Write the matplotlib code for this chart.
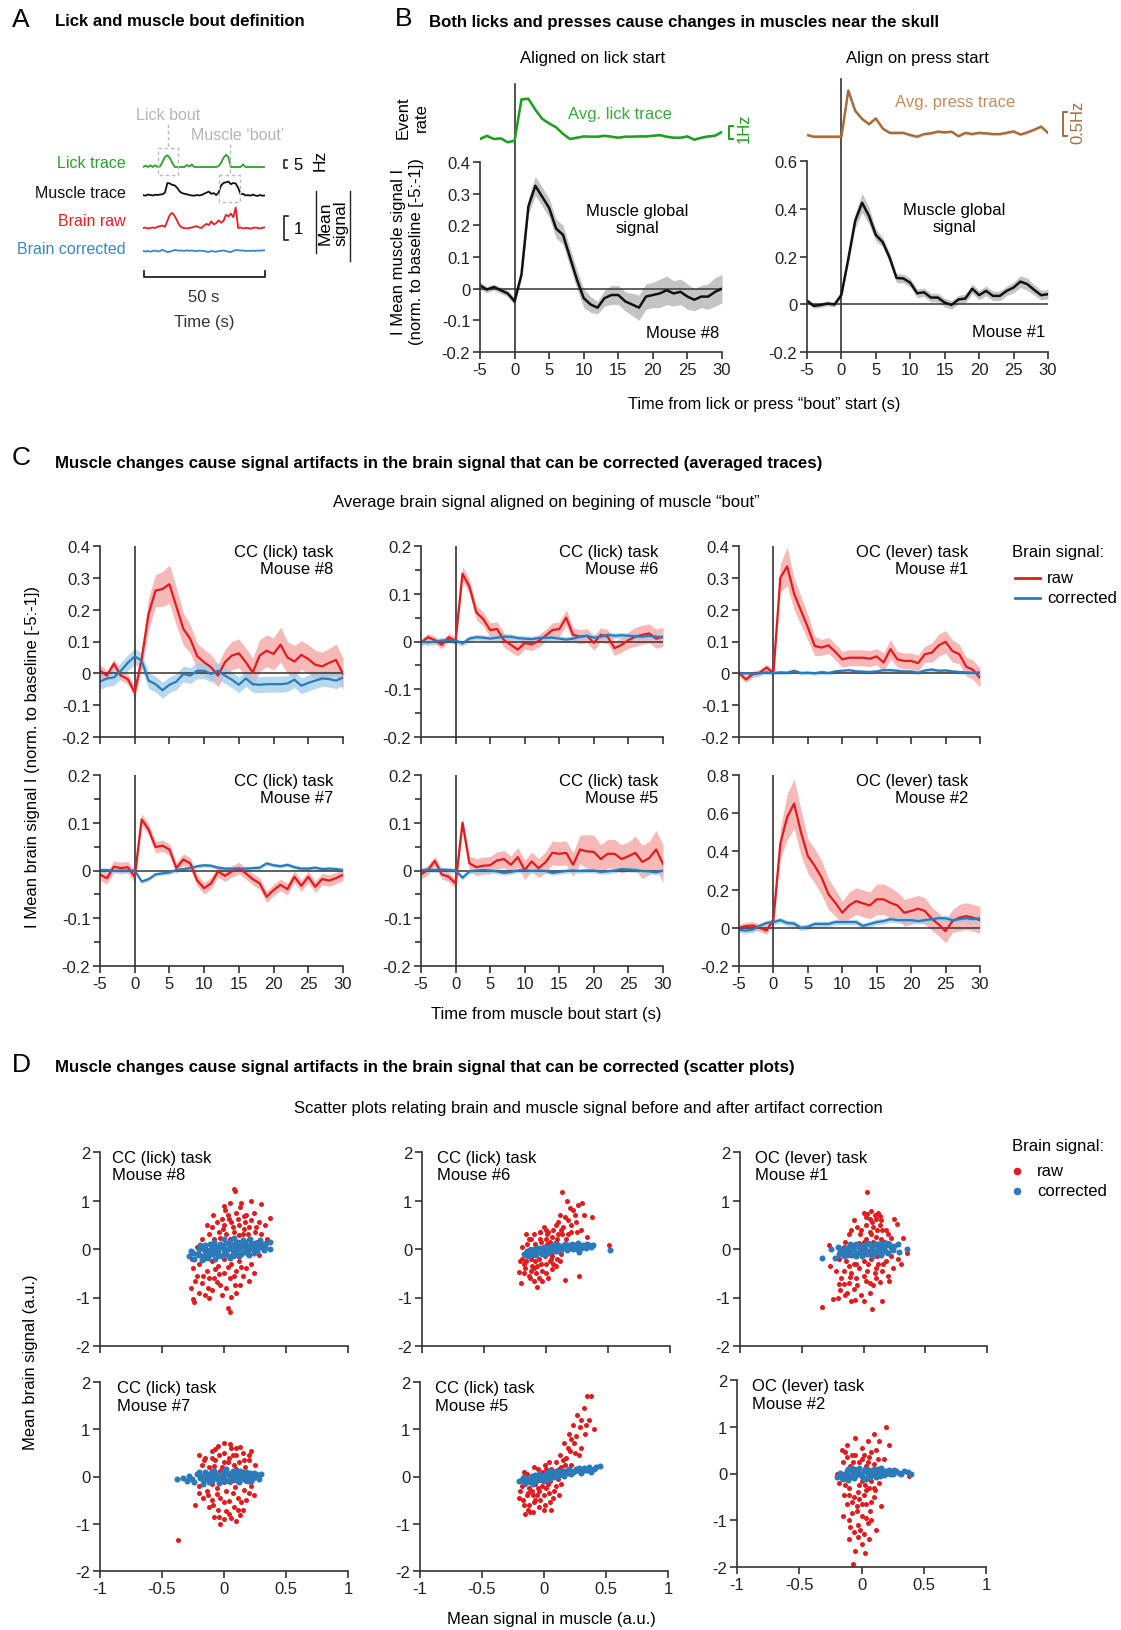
import numpy as np
import matplotlib
matplotlib.use('Agg')
import matplotlib.pyplot as plt
from matplotlib.patches import Rectangle

plt.rcParams['font.family'] = ['Liberation Sans', 'DejaVu Sans']
plt.rcParams['axes.unicode_minus'] = False

W, H = 1121, 1631
RED = '#e41a1c'
RED_BAND = '#f5a0a0'
BLUE = '#2b7bba'
BLUE_BAND = '#9fcbe8'
GREEN = '#1d9e1d'
BROWN = '#a86c3c'
AX = '#333333'
FS = 12

# ---------------- panel A : example traces (50 s) ----------------
a_t = np.arange(0, 51)
a_lick = [0, 0.8, 0, 1.0, 0, 1.0, 0, 0.3, 3.0, 6.0, 7.0, 5.5, 2.5, 0, 0, 0, 0, 0, 1.2, 0.3,
          1.5, 0, 0, 0, 0, 0, 0, 0, 0, 0, 0, 0.5, 2.5, 5.5, 7.3, 6.0, 0, 0, 0, 0,
          0, 1.5, 0, 0, 0, 0, 0, 0, 0, 0, 0]
a_muscle = [0.0, -0.03, 0.02, 0.0, -0.02, 0.01, 0.0, 0.02, 0.03, 0.1,
            0.5, 0.48, 0.42, 0.4, 0.3, 0.15, 0.08, 0.05, 0.03, 0.0,
            -0.02, -0.03, 0.0, -0.02, 0.0, 0.05, 0.1, 0.14, 0.05, 0.08,
            0.0, 0.1, 0.4, 0.5, 0.53, 0.56, 0.45, 0.5, 0.48, 0.3,
            0.03, 0.05, -0.02, 0.0, -0.03, 0.02, -0.02, -0.04, 0.0, -0.03, -0.02]
a_raw = [0, 0.02, -0.02, 0.0, 0.02, 0.0, 0.05, 0.08, 0.1, 0.05,
         0.3, 0.55, 0.63, 0.5, 0.3, 0.1, 0.02, 0.0, -0.02, 0.0,
         0.02, 0.05, 0.08, 0.02, 0.0, 0.1, 0.17, 0.12, 0.28, 0.15,
         0.2, 0.32, 0.22, 0.3, 0.55, 0.48, 0.6, 0.45, 0.85, 0.0,
         0.02, -0.02, 0.0, 0.0, -0.03, 0.0, 0.02, 0.0, -0.02, 0.01, 0.03]
a_cor = [0, -0.02, 0.0, -0.03, 0.0, 0.02, -0.02, 0.0, 0.05, 0.0,
         -0.04, -0.03, 0.01, 0.04, 0.03, 0.01, 0.02, 0.0, 0.03, 0.01,
         0.02, 0.0, -0.01, 0.02, 0.01, 0.0, -0.03, -0.04, 0.0, -0.02,
         -0.03, 0.0, 0.01, 0.02, 0.0, -0.03, -0.04, 0.0, 0.04, 0.03,
         0.02, 0.02, 0.0, 0.01, 0.0, 0.02, 0.0, 0.02, 0.01, 0.03, 0.02]

# ---------------- panel B : lick / press aligned muscle ----------------
t = np.arange(-5, 31)
lick_rate = [1.0, 1.25, 1.0, 1.05, 0.75, 0.87, 4.05, 4.1, 3.25, 2.55, 2.2, 1.9, 1.4, 1.0, 1.1, 1.2,
             1.18, 1.18, 1.25, 1.18, 1.1, 1.18, 1.18, 1.2, 1.2, 1.25, 1.3, 1.18, 1.1, 1.1, 1.2,
             0.95, 1.1, 1.2, 1.25, 1.55]
lick_sem = 0.08
press_rate = [0.235, 0.2, 0.2, 0.2, 0.2, 0.2, 1.16, 0.74, 0.57, 0.46, 0.58, 0.37, 0.28, 0.28, 0.28, 0.235,
              0.2, 0.255, 0.27, 0.305, 0.29, 0.305, 0.21, 0.28, 0.255, 0.28, 0.27, 0.255, 0.255, 0.28,
              0.31, 0.245, 0.29, 0.345, 0.41, 0.28]
press_sem = 0.03
muscle8 = [0.01, -0.003, 0.005, -0.005, -0.015, -0.04,
           0.045, 0.26, 0.325, 0.29, 0.255, 0.19, 0.17, 0.10, 0.03, -0.03,
           -0.05, -0.06, -0.03, -0.02, -0.02, -0.04, -0.05, -0.06, -0.025, -0.02,
           -0.015, -0.005, -0.015, -0.01, -0.025, -0.035, -0.025, -0.025, -0.01, 0.0]
muscle8_sem = [0.012, 0.01, 0.01, 0.01, 0.01, 0.012,
               0.015, 0.025, 0.03, 0.03, 0.03, 0.03, 0.03, 0.03, 0.03, 0.03,
               0.025, 0.02, 0.025, 0.03, 0.03, 0.03, 0.035, 0.04, 0.04, 0.04,
               0.045, 0.045, 0.04, 0.04, 0.04, 0.035, 0.035, 0.04, 0.045, 0.045]
muscle1 = [0.014, -0.007, -0.003, 0.003, -0.001, 0.04,
           0.19, 0.35, 0.425, 0.37, 0.29, 0.26, 0.195, 0.11, 0.108, 0.09,
           0.046, 0.05, 0.028, 0.028, 0.007, -0.003, 0.02, 0.024, 0.065, 0.038,
           0.056, 0.035, 0.035, 0.056, 0.07, 0.095, 0.084, 0.06, 0.038, 0.042]
muscle1_sem = [0.01, 0.01, 0.01, 0.01, 0.01, 0.012,
               0.02, 0.03, 0.04, 0.035, 0.025, 0.02, 0.02, 0.02, 0.018, 0.018,
               0.018, 0.018, 0.018, 0.018, 0.018, 0.018, 0.018, 0.018, 0.02, 0.02,
               0.02, 0.02, 0.02, 0.02, 0.022, 0.025, 0.025, 0.022, 0.02, 0.02]

# ---------------- panel C : brain signal aligned on muscle bout ----------------
m8_raw = [0.008, -0.007, 0.03, -0.007, -0.018, -0.06,
          0.045, 0.187, 0.26, 0.265, 0.28, 0.21, 0.14, 0.108, 0.054, 0.035,
          0.019, -0.007, 0.035, 0.056, 0.063, 0.035, 0.003, 0.056, 0.071, 0.061,
          0.09, 0.05, 0.037, 0.058, 0.045, 0.027, 0.022, 0.033, 0.042, -0.002]
m8_raw_sem = [0.02, 0.015, 0.015, 0.015, 0.015, 0.02,
              0.03, 0.05, 0.05, 0.055, 0.06, 0.06, 0.05, 0.045, 0.04, 0.04,
              0.04, 0.035, 0.04, 0.045, 0.045, 0.045, 0.045, 0.05, 0.05, 0.05,
              0.055, 0.05, 0.05, 0.045, 0.045, 0.045, 0.045, 0.045, 0.05, 0.05]
m8_cor = [-0.026, -0.016, -0.013, 0.008, 0.033, 0.053,
          0.04, -0.023, -0.034, -0.053, -0.036, -0.026, -0.002, -0.007, 0.008, 0.008,
          -0.002, 0.008, -0.007, -0.02, -0.036, -0.016, -0.034, -0.036, -0.034, -0.034,
          -0.034, -0.032, -0.02, -0.039, -0.03, -0.023, -0.016, -0.018, -0.023, -0.013]
m8_cor_sem = 0.025

m6_raw = [-0.003, 0.009, 0.003, -0.007, 0.009, 0.001,
          0.142, 0.115, 0.061, 0.047, 0.024, 0.026, 0.003, -0.007, -0.017, -0.003,
          -0.006, 0.001, 0.012, 0.024, 0.026, 0.05, 0.014, 0.01, 0.012, -0.003,
          0.014, 0.01, -0.014, -0.007, 0.003, 0.01, 0.014, 0.017, 0.006, 0.01]
m6_raw_sem = [0.008, 0.008, 0.008, 0.008, 0.008, 0.008,
              0.015, 0.015, 0.015, 0.015, 0.015, 0.015, 0.015, 0.015, 0.013, 0.013,
              0.013, 0.013, 0.013, 0.015, 0.015, 0.017, 0.015, 0.015, 0.015, 0.015,
              0.015, 0.015, 0.015, 0.015, 0.017, 0.02, 0.02, 0.02, 0.02, 0.02]
m6_cor = [0.0, -0.002, 0.0, 0.002, 0.003, 0.002,
          -0.004, 0.006, 0.009, 0.008, 0.006, 0.008, 0.01, 0.01, 0.007, 0.006,
          0.005, 0.007, 0.008, 0.008, 0.006, 0.004, 0.006, 0.01, 0.012, 0.008,
          0.01, 0.014, 0.012, 0.013, 0.012, 0.011, 0.01, 0.012, 0.01, 0.009]
m6_cor_sem = 0.006

m1_raw = [0.002, -0.019, -0.003, 0.002, 0.018, 0.002,
          0.30, 0.336, 0.25, 0.197, 0.144, 0.086, 0.081, 0.088, 0.067, 0.044,
          0.049, 0.049, 0.049, 0.046, 0.053, 0.034, 0.076, 0.044, 0.039, 0.039,
          0.032, 0.06, 0.065, 0.088, 0.099, 0.07, 0.06, 0.021, 0.011, -0.014]
m1_raw_sem = [0.01, 0.01, 0.01, 0.01, 0.01, 0.01,
              0.045, 0.06, 0.05, 0.045, 0.04, 0.03, 0.025, 0.025, 0.025, 0.025,
              0.025, 0.025, 0.025, 0.025, 0.025, 0.03, 0.03, 0.025, 0.025, 0.025,
              0.025, 0.025, 0.03, 0.035, 0.035, 0.035, 0.03, 0.03, 0.03, 0.03]
m1_cor = [0.0, 0.0, -0.002, 0.0, 0.003, 0.001,
          0.003, 0.002, 0.008, 0.001, 0.002, 0.0, 0.004, 0.001, 0.006, 0.008,
          0.01, 0.006, 0.005, 0.004, 0.006, 0.01, 0.01, 0.008, 0.006, 0.006,
          0.002, 0.009, 0.012, 0.008, 0.009, 0.006, 0.004, 0.003, 0.002, 0.003]
m1_cor_sem = 0.006

m7_raw = [-0.009, -0.016, 0.008, 0.005, 0.007, -0.013,
          0.107, 0.086, 0.049, 0.052, 0.044, 0.005, 0.023, 0.015, -0.021, -0.037,
          -0.027, -0.002, -0.011, -0.002, 0.005, -0.006, -0.018, -0.027, -0.055, -0.041,
          -0.03, -0.039, -0.013, -0.032, -0.013, -0.034, -0.018, -0.021, -0.016, -0.009]
m7_raw_sem = 0.012
m7_cor = [0.001, 0.001, -0.001, 0.0, 0.0, 0.0,
          -0.023, -0.018, -0.008, -0.006, -0.004, 0.001, 0.003, 0.005, 0.009, 0.011,
          0.01, 0.006, 0.004, 0.004, 0.004, 0.004, 0.005, 0.006, 0.015, 0.011,
          0.009, 0.012, 0.007, 0.004, 0.004, 0.006, 0.003, 0.004, 0.003, 0.001]
m7_cor_sem = 0.004

m5_raw = [-0.008, 0.001, 0.02, -0.008, -0.013, -0.027,
          0.1, 0.015, 0.007, 0.01, 0.011, 0.021, 0.024, 0.012, 0.028, 0.001,
          0.019, 0.005, 0.017, 0.037, 0.035, 0.037, 0.012, 0.044, 0.04, 0.039,
          0.024, 0.035, 0.035, 0.024, 0.03, 0.037, 0.018, 0.026, 0.044, 0.014]
m5_raw_sem = [0.01, 0.01, 0.01, 0.01, 0.01, 0.01,
              0.012, 0.015, 0.018, 0.018, 0.018, 0.018, 0.018, 0.018, 0.02, 0.02,
              0.02, 0.02, 0.022, 0.025, 0.025, 0.025, 0.025, 0.03, 0.035, 0.035,
              0.03, 0.03, 0.03, 0.03, 0.03, 0.035, 0.035, 0.035, 0.04, 0.04]
m5_cor = [0.0, 0.002, 0.001, 0.002, 0.001, 0.0,
          -0.015, -0.002, 0.0, 0.001, 0.0, -0.002, -0.005, -0.003, 0.0, 0.001,
          -0.001, 0.0, -0.001, -0.005, -0.003, -0.001, 0.0, -0.001, 0.0, 0.0,
          -0.003, -0.002, 0.0, 0.003, 0.002, 0.001, -0.001, -0.002, -0.004, 0.0]
m5_cor_sem = 0.005

m2_raw = [0.0, 0.009, 0.012, 0.0, -0.014, 0.044,
          0.44, 0.58, 0.65, 0.5, 0.376, 0.324, 0.263, 0.175, 0.131, 0.079,
          0.117, 0.14, 0.128, 0.117, 0.149, 0.149, 0.131, 0.117, 0.079, 0.088,
          0.1, 0.088, 0.047, 0.018, -0.018, 0.035, 0.053, 0.061, 0.053, 0.04]
m2_raw_sem = [0.02, 0.02, 0.02, 0.02, 0.02, 0.02,
              0.08, 0.12, 0.13, 0.12, 0.09, 0.09, 0.09, 0.08, 0.07, 0.06,
              0.07, 0.07, 0.07, 0.07, 0.08, 0.08, 0.08, 0.07, 0.07, 0.07,
              0.07, 0.07, 0.06, 0.06, 0.06, 0.06, 0.07, 0.07, 0.07, 0.07]
m2_cor = [-0.01, -0.015, -0.01, 0.01, 0.025, 0.03,
          0.04, 0.025, 0.022, 0.0, 0.005, 0.02, 0.02, 0.02, 0.03, 0.03,
          0.03, 0.03, 0.01, 0.02, 0.03, 0.035, 0.045, 0.04, 0.04, 0.04,
          0.035, 0.04, 0.045, 0.05, 0.05, 0.04, 0.045, 0.05, 0.045, 0.05]
m2_cor_sem = 0.015

# ---------------- panel D : scatter clouds (muscle, brain) ----------------
d8_raw = np.array([
    (0.08, 1.24), (0.09, 1.19), (0.0, 0.88), (0.05, 0.95), (0.13, 0.86), (0.22, 0.98), (0.30, 0.92),
    (0.37, 0.63), (0.33, 0.5), (0.28, 0.55), (0.18, 0.7), (0.1, 0.75), (0.03, 0.7), (-0.02, 0.62),
    (-0.06, 0.55), (-0.1, 0.45), (0.0, 0.5), (0.06, 0.55), (0.12, 0.5), (0.2, 0.45), (0.25, 0.35),
    (0.3, 0.3), (0.15, 0.3), (0.08, 0.35), (0.02, 0.3), (-0.04, 0.35), (-0.12, 0.3), (-0.18, 0.2),
    (-0.08, 0.2), (0.05, 0.2), (0.1, 0.15), (0.2, 0.2), (0.27, 0.15), (0.35, 0.2), (0.22, 0.6),
    (0.16, 0.42), (-0.01, 0.42), (0.04, 0.62), (0.11, 0.62), (0.07, 0.45),
    (-0.27, -0.8), (-0.25, -1.03), (-0.24, -1.09), (-0.2, -0.9), (-0.15, -0.95), (-0.12, -1.02),
    (-0.1, -0.85), (-0.18, -0.7), (-0.22, -0.55), (-0.25, -0.4), (-0.2, -0.3), (-0.14, -0.45),
    (-0.08, -0.6), (-0.03, -0.75), (0.02, -0.8), (0.05, -0.6), (0.0, -0.5), (-0.05, -0.35),
    (-0.1, -0.25), (0.06, -0.3), (0.1, -0.45), (0.15, -0.55), (0.18, -0.4), (0.12, -0.25),
    (0.22, -0.3), (0.24, -0.5), (0.2, -0.65), (0.03, -1.22), (0.05, -1.3), (-0.06, -0.68),
    (-0.16, -0.2), (0.0, -0.2), (0.08, -0.15), (-0.12, -0.6), (0.09, -0.75), (-0.02, -0.95),
    (-0.15, 0.05), (-0.12, -0.1), (-0.08, 0.1), (-0.05, -0.15), (-0.02, 0.08), (0.01, -0.1),
    (0.04, 0.1), (0.07, -0.08), (0.1, 0.05), (0.13, -0.1), (0.16, 0.1), (0.19, -0.05),
    (0.23, 0.08), (-0.2, -0.1), (-0.22, 0.05), (-0.03, 0.22), (0.12, 0.28), (-0.07, -0.42),
    (0.03, -0.38), (0.14, -0.38), (-0.17, -0.55), (0.08, -0.55), (-0.04, -0.52), (0.17, 0.55),
    (0.26, 0.45), (0.01, 0.8), (0.14, 0.95), (-0.09, 0.7), (-0.13, -0.8), (0.1, -0.9),
    (0.13, -0.75), (-0.23, -0.65), (0.3, 0.1), (0.28, -0.12), (-0.26, -0.2), (0.16, 0.68),
    (0.19, 0.3), (-0.14, 0.5), (0.24, 0.75), (0.06, -0.98)])
d8_cor = np.array([
    (-0.28, -0.15), (-0.25, -0.08), (-0.24, -0.2), (-0.2, -0.12), (-0.2, 0.0), (-0.18, -0.22),
    (-0.15, -0.05), (-0.15, 0.08), (-0.13, -0.18), (-0.1, -0.1), (-0.1, 0.05), (-0.08, 0.15),
    (-0.07, -0.2), (-0.05, -0.05), (-0.03, 0.1), (-0.02, -0.15), (0.0, 0.0), (0.0, 0.2),
    (0.02, -0.1), (0.04, 0.12), (0.05, -0.18), (0.06, 0.03), (0.08, 0.22), (0.09, -0.08),
    (0.1, 0.1), (0.12, -0.15), (0.13, 0.02), (0.15, 0.18), (0.16, -0.07), (0.18, 0.08),
    (0.2, -0.12), (0.21, 0.2), (0.23, 0.0), (0.25, 0.12), (0.27, -0.05), (0.29, 0.18),
    (0.3, 0.05), (0.32, -0.02), (0.34, 0.12), (0.37, 0.15), (0.37, 0.0), (-0.12, -0.02),
    (0.07, -0.02), (0.18, -0.02), (-0.05, 0.05),
    (-0.22, -0.1), (-0.17, -0.15), (-0.16, 0.0), (-0.12, -0.1), (-0.11, 0.1), (-0.07, -0.08),
    (-0.06, 0.05), (-0.04, -0.12), (-0.01, 0.05), (0.01, -0.05), (0.03, 0.0), (0.04, -0.15),
    (0.05, 0.15), (0.07, 0.08), (0.08, -0.12), (0.11, 0.0), (0.11, 0.15), (0.14, -0.1),
    (0.15, 0.06), (0.17, 0.14), (0.19, -0.1), (0.2, 0.04), (0.22, 0.12), (0.24, -0.08),
    (0.26, 0.05), (0.28, 0.12), (0.31, 0.1), (0.33, 0.05), (-0.19, 0.08), (-0.27, -0.05),
    (0.02, 0.13), (-0.09, 0.0), (0.12, 0.1), (0.0, -0.1), (-0.14, -0.1)])
d6_raw = np.array([
    (-0.22, -0.48), (-0.18, -0.3), (-0.17, -0.1), (-0.15, 0.1), (-0.14, -0.55), (-0.12, -0.2),
    (-0.1, 0.3), (-0.1, -0.4), (-0.08, -0.05), (-0.07, -0.79), (-0.06, -0.6), (-0.05, 0.2),
    (-0.04, -0.3), (-0.02, 0.45), (-0.01, -0.15), (0.0, -0.5), (0.01, 0.1), (0.02, 0.35),
    (0.03, -0.25), (0.05, 0.25), (0.05, -0.42), (0.07, 0.0), (0.08, 0.5), (0.09, -0.2),
    (0.1, 0.3), (0.11, 0.7), (0.12, -0.1), (0.13, 1.17), (0.14, 0.45), (0.15, -0.63),
    (0.16, 0.2), (0.17, 1.0), (0.18, 0.6), (0.2, 0.35), (0.22, 0.8), (0.24, 0.55), (0.26, 0.9),
    (0.27, -0.55), (0.28, 0.4), (0.29, 0.94), (0.31, 0.7), (0.33, 0.25), (0.37, 0.66),
    (0.51, 0.09), (-0.2, -0.7), (-0.16, 0.3), (-0.13, 0.0), (-0.09, -0.25), (-0.03, -0.65),
    (0.0, 0.2), (0.04, -0.1), (-0.19, 0.05), (0.08, 0.15), (0.19, 0.85), (0.12, 0.4),
    (-0.05, 0.35), (-0.11, -0.15), (0.06, -0.3),
    (-0.19, -0.2), (-0.17, -0.4), (-0.15, -0.15), (-0.13, -0.6), (-0.12, 0.2), (-0.11, -0.35),
    (-0.09, 0.1), (-0.08, -0.5), (-0.06, -0.2), (-0.05, 0.35), (-0.03, -0.45), (-0.02, 0.0),
    (0.0, -0.3), (0.01, 0.3), (0.02, -0.6), (0.03, 0.15), (0.05, -0.15), (0.06, 0.4),
    (0.08, -0.35), (0.09, 0.2), (-0.16, -0.25), (-0.14, 0.2), (-0.1, -0.65), (-0.04, 0.15),
    (0.04, -0.2), (0.0, 0.4), (-0.07, -0.35), (-0.18, -0.5), (0.1, 0.55), (0.15, 0.65),
    (0.2, 0.5), (0.23, 0.7), (0.25, 0.35), (0.18, 0.3), (0.13, 0.3), (-0.21, -0.25),
    (0.11, -0.25), (-0.12, -0.45)])
d6_cor = np.array([
    (-0.18, -0.1), (-0.15, -0.04), (-0.14, -0.14), (-0.11, -0.08), (-0.1, 0.0), (-0.08, -0.12),
    (-0.06, -0.04), (-0.05, 0.03), (-0.03, -0.1), (-0.01, -0.02), (0.0, 0.05), (0.02, -0.08),
    (0.04, 0.0), (0.05, 0.06), (0.07, -0.05), (0.09, 0.02), (0.1, 0.08), (0.12, -0.03),
    (0.14, 0.04), (0.15, 0.1), (0.17, -0.02), (0.19, 0.05), (0.21, 0.1), (0.22, 0.0),
    (0.24, 0.06), (0.26, 0.12), (0.28, 0.03), (0.3, 0.08), (0.33, 0.1), (0.36, 0.05),
    (0.38, 0.09), (0.52, -0.03), (0.27, -0.06), (-0.12, -0.02), (0.07, 0.1),
    (-0.16, -0.12), (-0.13, -0.03), (-0.09, -0.06), (-0.07, 0.03), (-0.04, -0.06), (-0.02, 0.04),
    (0.01, -0.06), (0.03, 0.03), (0.06, -0.02), (0.08, 0.07), (0.11, 0.0), (0.13, 0.07),
    (0.16, 0.02), (0.18, 0.09), (0.2, 0.03), (0.23, 0.08), (0.25, 0.01), (0.29, 0.06),
    (0.32, 0.02), (0.35, 0.08), (-0.1, -0.1), (0.0, -0.1), (0.09, -0.04), (0.04, 0.07),
    (-0.15, -0.08)])
d1_raw = np.array([
    (0.03, 1.17), (0.0, 0.75), (0.03, 0.72), (0.06, 0.78), (0.09, 0.7), (0.12, 0.75), (0.05, 0.62),
    (0.14, 0.6), (0.25, 0.62), (0.27, 0.52), (-0.08, 0.6), (-0.05, 0.45), (0.02, 0.5), (0.08, 0.45),
    (0.15, 0.4), (0.2, 0.3), (-0.12, 0.3), (-0.03, 0.3), (0.1, 0.25), (0.17, 0.15), (-0.15, 0.15),
    (0.0, 0.15), (0.06, 0.3), (0.13, 0.5), (-0.2, -0.2), (-0.14, -0.25), (-0.08, -0.3),
    (0.0, -0.25), (0.06, -0.2), (0.12, -0.3), (0.18, -0.25), (0.22, -0.15), (0.28, -0.2),
    (0.3, -0.3), (-0.16, -0.45), (-0.1, -0.5), (-0.04, -0.4), (0.03, -0.45), (0.09, -0.5),
    (0.15, -0.45), (0.2, -0.55), (-0.18, -0.6), (-0.12, -0.7), (-0.06, -0.6), (0.02, -0.65),
    (0.08, -0.75), (0.13, -0.68), (-0.16, -0.73), (-0.19, -0.85), (-0.13, -0.9), (-0.08, -0.82),
    (0.05, -0.9), (-0.34, -1.2), (-0.25, -1.04), (-0.21, -1.0), (-0.1, -1.08), (0.07, -1.23),
    (0.15, -1.08), (0.21, -0.65), (-0.27, -0.35), (-0.28, 0.08), (0.35, -0.08), (0.32, 0.22),
    (-0.02, -0.95),
    (-0.13, -0.1), (-0.1, 0.1), (-0.07, -0.15), (-0.04, 0.12), (-0.01, -0.1), (0.02, 0.2),
    (0.05, -0.05), (0.08, 0.15), (0.11, -0.15), (0.14, 0.2), (0.17, -0.05), (0.2, 0.12),
    (-0.12, -0.35), (-0.06, -0.3), (0.04, -0.3), (0.1, -0.4), (0.16, -0.3), (-0.02, 0.4),
    (0.05, 0.35), (0.11, 0.4), (0.18, 0.4), (-0.1, 0.4), (0.07, 0.55), (0.1, 0.62),
    (0.13, 0.68), (0.02, 0.65), (-0.11, -0.58), (-0.05, -0.75), (0.0, -0.55), (0.05, -0.7),
    (-0.15, -0.95), (-0.2, -0.72), (-0.22, -0.45), (0.24, -0.4), (0.1, -0.6), (-0.07, -1.05),
    (0.0, -1.08), (0.11, 0.08), (-0.16, 0.05), (0.22, 0.22)])
d1_cor = np.array([
    (-0.2, -0.1), (-0.18, 0.0), (-0.16, -0.15), (-0.14, -0.05), (-0.12, 0.05), (-0.1, -0.12),
    (-0.08, 0.0), (-0.06, 0.1), (-0.05, -0.08), (-0.03, 0.03), (-0.01, -0.14), (0.0, 0.08),
    (0.02, -0.04), (0.04, 0.12), (0.05, -0.1), (0.07, 0.02), (0.09, 0.1), (0.1, -0.06),
    (0.12, 0.05), (0.14, -0.12), (0.15, 0.1), (0.17, 0.0), (0.19, 0.08), (0.2, -0.08),
    (0.22, 0.04), (0.24, -0.02), (-0.34, -0.18), (-0.26, 0.0), (-0.23, -0.18), (0.28, 0.1),
    (0.35, 0.0), (0.29, -0.06), (-0.11, 0.11), (0.08, -0.14),
    (-0.19, -0.05), (-0.17, -0.1), (-0.15, 0.02), (-0.13, -0.12), (-0.11, -0.02), (-0.09, 0.06),
    (-0.07, -0.1), (-0.04, 0.06), (-0.02, -0.05), (0.01, 0.02), (0.03, -0.1), (0.06, 0.07),
    (0.08, -0.04), (0.11, 0.1), (0.13, -0.02), (0.16, 0.05), (0.18, -0.06), (0.21, 0.1),
    (0.23, 0.0), (-0.21, 0.04), (0.0, -0.02), (0.14, 0.12), (-0.06, -0.14), (0.18, 0.12),
    (0.25, 0.06)])
d7_raw = np.array([
    (0.0, 0.7), (-0.05, 0.65), (0.05, 0.68), (0.1, 0.6), (-0.1, 0.55), (0.15, 0.5), (-0.15, 0.4),
    (0.0, 0.5), (0.07, 0.45), (-0.07, 0.35), (0.2, 0.35), (0.12, 0.3), (-0.18, 0.25), (0.03, 0.3),
    (-0.12, 0.2), (0.17, 0.2), (0.25, 0.25), (-0.2, -0.2), (-0.14, -0.3), (-0.06, -0.25),
    (0.02, -0.3), (0.09, -0.22), (0.16, -0.28), (0.22, -0.2), (-0.17, -0.45), (-0.1, -0.5),
    (-0.03, -0.45), (0.04, -0.52), (0.11, -0.45), (0.18, -0.5), (-0.12, -0.65), (-0.05, -0.7),
    (0.02, -0.72), (0.08, -0.65), (0.15, -0.7), (-0.08, -0.85), (0.0, -0.9), (0.06, -0.88),
    (-0.03, -1.0), (0.1, -0.95), (-0.37, -1.35), (-0.2, 0.45), (0.22, 0.55), (-0.02, 0.2),
    (0.1, 0.15), (-0.23, -0.6), (0.24, -0.4), (0.05, -0.12), (-0.1, -0.15), (0.13, -0.82),
    (-0.15, 0.0), (-0.12, -0.1), (-0.09, 0.1), (-0.06, -0.05), (-0.03, 0.12), (0.0, -0.12),
    (0.03, 0.05), (0.06, -0.1), (0.09, 0.08), (0.12, -0.05), (0.15, 0.1), (0.18, -0.1),
    (-0.1, 0.4), (-0.04, 0.45), (0.04, 0.4), (0.1, 0.45), (0.16, 0.35), (-0.13, -0.4),
    (-0.06, -0.38), (0.0, -0.55), (0.07, -0.35), (0.14, -0.55), (-0.09, -0.6), (0.04, -0.8),
    (-0.04, -0.85), (0.11, -0.7), (0.2, 0.45), (-0.16, 0.35), (0.06, 0.6), (-0.07, 0.58),
    (0.13, 0.62), (-0.18, -0.05), (0.21, -0.05), (0.0, 0.3), (0.08, 0.25), (-0.08, 0.22),
    (-0.2, -0.35), (0.2, -0.35)])
d7_cor = np.array([
    (-0.38, -0.05), (-0.3, -0.1), (-0.28, 0.02), (-0.24, -0.12), (-0.22, 0.06), (-0.19, -0.04),
    (-0.17, -0.15), (-0.15, 0.1), (-0.13, 0.0), (-0.1, -0.1), (-0.08, 0.12), (-0.06, 0.02),
    (-0.04, -0.14), (-0.02, 0.08), (0.0, -0.04), (0.02, 0.15), (0.04, -0.1), (0.06, 0.05),
    (0.08, -0.02), (0.1, 0.12), (0.12, -0.12), (0.14, 0.04), (0.16, -0.06), (0.18, 0.1),
    (0.2, 0.0), (0.22, -0.1), (0.24, 0.08), (0.27, -0.02), (0.3, 0.05), (-0.11, 0.05),
    (0.09, 0.02), (-0.05, -0.06),
    (-0.33, -0.03), (-0.26, -0.06), (-0.2, 0.1), (-0.18, 0.02), (-0.16, -0.08), (-0.14, 0.06),
    (-0.12, -0.12), (-0.09, -0.03), (-0.07, 0.08), (-0.03, -0.04), (-0.01, 0.05), (0.01, -0.1),
    (0.03, 0.08), (0.05, -0.04), (0.07, 0.12), (0.09, -0.08), (0.11, 0.04), (0.13, 0.12),
    (0.15, -0.02), (0.17, 0.06), (0.19, -0.1), (0.21, 0.08), (0.23, -0.04), (0.26, 0.06),
    (0.28, -0.06), (0.0, 0.1), (-0.1, 0.12), (0.12, -0.1)])
d5_raw = np.array([
    (-0.2, -0.45), (-0.18, -0.2), (-0.16, -0.6), (-0.14, 0.05), (-0.13, -0.35), (-0.11, -0.75),
    (-0.1, -0.1), (-0.08, 0.2), (-0.07, -0.5), (-0.05, -0.25), (-0.04, -0.65), (-0.02, 0.1),
    (0.0, -0.4), (0.01, 0.25), (0.03, -0.15), (0.05, -0.55), (0.06, 0.15), (0.08, -0.3),
    (0.1, 0.3), (0.11, -0.05), (0.13, 0.45), (0.14, 0.2), (0.16, 0.7), (0.18, 0.4), (0.2, 0.9),
    (0.21, 0.55), (0.23, 1.1), (0.24, 0.7), (0.26, 0.85), (0.27, 1.3), (0.29, 1.05), (0.3, 0.6),
    (0.32, 1.45), (0.33, 0.9), (0.35, 1.7), (0.38, 1.7), (0.36, 1.2), (0.4, 1.0), (0.28, 0.45),
    (0.22, 0.25), (-0.12, -0.25), (-0.06, 0.0), (0.02, -0.25), (0.07, 0.05), (-0.15, -0.8),
    (0.0, -0.7), (0.12, -0.4), (0.18, 0.1), (-0.09, -0.4), (0.04, 0.3),
    (-0.19, -0.3), (-0.17, -0.5), (-0.15, -0.15), (-0.14, -0.4), (-0.12, -0.6), (-0.11, -0.05),
    (-0.1, -0.3), (-0.08, -0.55), (-0.07, -0.15), (-0.06, -0.4), (-0.05, 0.15), (-0.03, -0.5),
    (-0.02, -0.2), (0.0, -0.05), (0.01, -0.6), (0.02, 0.15), (0.04, -0.35), (0.05, -0.1),
    (0.07, -0.45), (0.09, 0.1), (0.1, -0.2), (0.12, 0.15), (0.14, -0.15), (0.15, 0.35),
    (0.17, 0.25), (0.19, 0.6), (0.22, 0.8), (0.25, 0.5), (0.3, 1.2), (0.34, 1.1),
    (-0.13, -0.7), (-0.09, -0.75), (0.06, -0.7), (-0.16, 0.1), (-0.04, -0.3), (0.03, 0.0)])
d5_cor = np.array([
    (-0.2, -0.1), (-0.17, -0.03), (-0.15, -0.14), (-0.12, -0.06), (-0.1, 0.02), (-0.08, -0.1),
    (-0.06, -0.02), (-0.04, 0.05), (-0.02, -0.08), (0.0, 0.0), (0.02, 0.07), (0.04, -0.05),
    (0.06, 0.03), (0.08, 0.1), (0.1, -0.02), (0.12, 0.06), (0.14, 0.12), (0.16, 0.02),
    (0.18, 0.09), (0.2, 0.15), (0.22, 0.05), (0.25, 0.12), (0.28, 0.18), (0.3, 0.08),
    (0.33, 0.14), (0.36, 0.2), (0.4, 0.16), (0.45, 0.22), (0.38, 0.1), (-0.09, -0.15),
    (0.05, 0.12),
    (-0.18, -0.08), (-0.16, 0.0), (-0.14, -0.06), (-0.11, -0.12), (-0.09, -0.02), (-0.07, 0.04),
    (-0.05, -0.08), (-0.03, 0.02), (-0.01, -0.04), (0.01, 0.04), (0.03, -0.02), (0.05, 0.06),
    (0.07, 0.0), (0.09, 0.06), (0.11, 0.02), (0.13, 0.09), (0.15, 0.04), (0.17, 0.12),
    (0.19, 0.07), (0.21, 0.12), (0.23, 0.1), (0.26, 0.16), (0.29, 0.12), (0.32, 0.17),
    (0.35, 0.13), (0.42, 0.2), (0.0, -0.1), (0.1, 0.12)])
d2_raw = np.array([
    (0.2, 1.0), (0.1, 0.85), (-0.05, 0.75), (0.05, 0.7), (-0.12, 0.6), (0.0, 0.55), (0.12, 0.5),
    (-0.08, 0.4), (0.06, 0.35), (0.18, 0.3), (-0.15, 0.25), (-0.02, 0.25), (0.1, 0.2),
    (-0.1, 0.1), (0.04, 0.15), (-0.18, -0.2), (-0.1, -0.3), (-0.02, -0.25), (0.06, -0.3),
    (0.14, -0.2), (-0.14, -0.45), (-0.06, -0.5), (0.02, -0.45), (0.1, -0.5), (-0.12, -0.65),
    (-0.04, -0.7), (0.04, -0.65), (-0.08, -0.85), (0.0, -0.9), (0.07, -0.8), (-0.1, -1.0),
    (-0.03, -1.1), (0.05, -1.05), (-0.06, -1.25), (0.02, -1.3), (-0.1, -1.4), (0.0, -1.5),
    (-0.05, -1.65), (0.03, -1.7), (-0.07, -1.93), (0.12, -1.2), (-0.15, -0.9), (0.16, -0.7),
    (0.22, 0.6), (-0.2, 0.0), (0.15, 0.05), (0.38, -0.05), (-0.13, 0.45), (0.08, -0.15),
    (-0.05, 0.1),
    (-0.15, 0.0), (-0.12, -0.1), (-0.09, 0.15), (-0.06, -0.1), (-0.03, 0.1), (0.0, -0.15),
    (0.03, 0.05), (0.06, -0.1), (0.09, 0.08), (0.12, -0.05), (-0.12, 0.35), (-0.05, 0.4),
    (0.02, 0.4), (0.08, 0.45), (-0.1, -0.45), (-0.03, -0.4), (0.04, -0.35), (0.11, -0.35),
    (-0.08, -0.6), (0.0, -0.65), (0.08, -0.62), (-0.13, -0.25), (0.1, -0.3), (-0.02, -0.55),
    (0.05, 0.25), (-0.07, 0.25), (0.0, 0.3), (0.03, -0.25), (-0.04, -0.8), (0.04, -0.95),
    (-0.09, -1.15), (0.08, -1.0), (-0.01, -1.2), (0.06, -1.4), (-0.03, -1.35), (0.13, 0.3),
    (-0.16, 0.5), (0.14, 0.7)])
d2_cor = np.array([
    (-0.2, -0.08), (-0.17, 0.02), (-0.15, -0.12), (-0.12, 0.06), (-0.1, -0.04), (-0.08, 0.1),
    (-0.06, -0.1), (-0.04, 0.02), (-0.02, 0.12), (0.0, -0.06), (0.02, 0.05), (0.04, -0.12),
    (0.06, 0.08), (0.08, -0.02), (0.1, 0.1), (0.12, -0.08), (0.14, 0.04), (0.16, 0.12),
    (0.18, -0.04), (0.2, 0.06), (0.23, 0.0), (0.26, 0.08), (0.3, 0.02), (0.34, 0.06),
    (0.4, 0.0), (-0.11, -0.14), (0.05, 0.0), (-0.03, -0.02),
    (-0.18, -0.03), (-0.16, -0.1), (-0.13, 0.0), (-0.11, 0.1), (-0.09, -0.08), (-0.07, 0.04),
    (-0.05, -0.06), (-0.03, 0.08), (-0.01, 0.0), (0.01, -0.1), (0.03, 0.1), (0.05, 0.06),
    (0.07, -0.08), (0.09, 0.04), (0.11, -0.04), (0.13, 0.1), (0.15, -0.06), (0.17, 0.06),
    (0.19, 0.0), (0.22, 0.08), (0.25, -0.02), (0.28, 0.05), (0.32, 0.0), (0.37, 0.04),
    (-0.08, 0.12), (0.12, 0.0)])


fig = plt.figure(figsize=(W / 100, H / 100), dpi=100)


def add_ax(x0, y0, x1, y1):
    ax = fig.add_axes([x0 / W, 1 - y1 / H, (x1 - x0) / W, (y1 - y0) / H])
    ax.set_facecolor('none')
    return ax


def style(ax):
    for s in ['top', 'right']:
        ax.spines[s].set_visible(False)
    for s in ['left', 'bottom']:
        ax.spines[s].set_color(AX)
        ax.spines[s].set_linewidth(1.2)
    ax.tick_params(direction='out', length=5, width=1.2, color=AX, labelsize=FS,
                   labelcolor='#222222', pad=2)
    ax.tick_params(which='minor', direction='out', length=4, width=1.2, color=AX)


def fmt(v):
    return '0' if abs(v) < 1e-9 else ('%g' % round(v, 2))


def frameless(ax):
    ax.set_xticks([])
    ax.set_yticks([])
    for s in ax.spines.values():
        s.set_visible(False)


# ---------------- panel A ----------------
axA = add_ax(143, 140, 265, 262)
axA.set_xlim(0, 50)
axA.set_ylim(0, 122)
frameless(axA)
axA.plot(a_t, 94 + 1.67 * np.array(a_lick), color='#2ca02c', lw=1.3)
axA.plot(a_t, 66 + 24 * np.array(a_muscle), color='#111111', lw=1.3)
axA.plot(a_t, 33 + 24 * np.array(a_raw), color='#ee1c25', lw=1.3)
axA.plot(a_t, 10 + 24 * np.array(a_cor), color='#3a86c6', lw=1.3)

# ---------------- panel B ----------------
b_boxes = [
    dict(main=(480, 163, 722, 353), top=(480, 85, 722, 150), ylim=(-0.2, 0.4),
         yticks=np.arange(-0.2, 0.41, 0.1), y=muscle8, sem=muscle8_sem, rate=lick_rate,
         rate_sem=lick_sem, rlim=(0.23, 5.23), rcol=GREEN, vtop=85, mouse='Mouse #8', gx=0.65),
    dict(main=(807, 162, 1048, 353), top=(807, 80, 1048, 150), ylim=(-0.2, 0.6),
         yticks=np.arange(-0.2, 0.61, 0.2), y=muscle1, sem=muscle1_sem, rate=press_rate,
         rate_sem=press_sem, rlim=(-0.056, 1.40), rcol=BROWN, vtop=80, mouse='Mouse #1', gx=0.61),
]
for b in b_boxes:
    ax = add_ax(*b['main'])
    style(ax)
    y = np.array(b['y'])
    s = np.array(b['sem'])
    ax.fill_between(t, y - s, y + s, color='#c4c4c4', lw=0)
    ax.axhline(0, color='#444444', lw=1.2)
    x0, y0, x1, y1 = b['main']
    ax.axvline(0, ymin=0, ymax=(y1 - b['vtop']) / (y1 - y0), color=AX, lw=1.2, clip_on=False)
    ax.plot(t, y, color='#111111', lw=1.8)
    ax.set_xlim(-5, 30)
    ax.set_ylim(*b['ylim'])
    ax.set_xticks(np.arange(-5, 31, 5))
    ax.set_yticks(b['yticks'])
    ax.set_yticklabels([fmt(v) for v in b['yticks']])
    ax.text(0.99, 0.105, b['mouse'], transform=ax.transAxes, ha='right', va='center', fontsize=FS)
    ax.text(b['gx'], 0.70, 'Muscle global\nsignal', transform=ax.transAxes, ha='center',
            va='center', fontsize=FS, linespacing=1.15)
    tx = add_ax(*b['top'])
    frameless(tx)
    r = np.array(b['rate'])
    tx.fill_between(t, r - b['rate_sem'], r + b['rate_sem'], color=b['rcol'], alpha=0.25, lw=0)
    tx.plot(t, r, color=b['rcol'], lw=1.8)
    tx.set_xlim(-5, 30)
    tx.set_ylim(*b['rlim'])

# ---------------- panel C ----------------
c_panels = [
    ((100, 547, 343, 738), m8_raw, m8_raw_sem, m8_cor, m8_cor_sem, (-0.2, 0.4), 0.1, None,
     'CC (lick) task\nMouse #8', False, 0.96),
    ((421, 547, 663, 738), m6_raw, m6_raw_sem, m6_cor, m6_cor_sem, (-0.2, 0.2), 0.1, 0.05,
     'CC (lick) task\nMouse #6', False, 0.98),
    ((739, 547, 980, 738), m1_raw, m1_raw_sem, m1_cor, m1_cor_sem, (-0.2, 0.4), 0.1, None,
     'OC (lever) task\nMouse #1', False, 0.95),
    ((100, 776, 343, 967), m7_raw, m7_raw_sem, m7_cor, m7_cor_sem, (-0.2, 0.2), 0.1, 0.05,
     'CC (lick) task\nMouse #7', True, 0.96),
    ((421, 776, 663, 967), m5_raw, m5_raw_sem, m5_cor, m5_cor_sem, (-0.2, 0.2), 0.1, 0.05,
     'CC (lick) task\nMouse #5', True, 0.98),
    ((739, 776, 980, 967), m2_raw, m2_raw_sem, m2_cor, m2_cor_sem, (-0.2, 0.8), 0.2, None,
     'OC (lever) task\nMouse #2', True, 0.95),
]
for box, raw, raw_sem, cor, cor_sem, ylim, step, minor, label, xlab, tx_x in c_panels:
    ax = add_ax(*box)
    style(ax)
    raw = np.array(raw)
    cor = np.array(cor)
    rs = np.array(raw_sem)
    cs = np.array(cor_sem)
    ax.fill_between(t, raw - rs, raw + rs, color=RED_BAND, alpha=0.75, lw=0)
    ax.fill_between(t, cor - cs, cor + cs, color=BLUE_BAND, alpha=0.75, lw=0)
    ax.axhline(0, color=AX, lw=1.1)
    ax.axvline(0, color=AX, lw=1.2)
    ax.plot(t, raw, color=RED, lw=1.6)
    ax.plot(t, cor, color=BLUE, lw=1.6)
    ax.set_xlim(-5, 30)
    ax.set_ylim(*ylim)
    ax.set_xticks(np.arange(-5, 31, 5))
    if not xlab:
        ax.set_xticklabels([])
    yt = np.arange(ylim[0], ylim[1] + 1e-6, step)
    ax.set_yticks(yt)
    ax.set_yticklabels([fmt(v) for v in yt])
    if minor:
        ax.set_yticks(np.arange(ylim[0], ylim[1] + 1e-6, minor), minor=True)
    ax.text(tx_x, 1.01, label, transform=ax.transAxes, ha='right', va='top', fontsize=FS,
            linespacing=1.2)

# ---------------- panel D ----------------
d_panels = [
    ((100, 1153, 348, 1347), d8_raw, d8_cor, 'CC (lick) task\nMouse #8', False, 0.05),
    ((422, 1153, 670, 1347), d6_raw, d6_cor, 'CC (lick) task\nMouse #6', False, 0.06),
    ((740, 1153, 987, 1347), d1_raw, d1_cor, 'OC (lever) task\nMouse #1', False, 0.06),
    ((100, 1383, 348, 1572), d7_raw, d7_cor, 'CC (lick) task\nMouse #7', True, 0.07),
    ((420, 1383, 668, 1572), d5_raw, d5_cor, 'CC (lick) task\nMouse #5', True, 0.06),
    ((737, 1381, 986, 1568), d2_raw, d2_cor, 'OC (lever) task\nMouse #2', True, 0.06),
]
for box, raw, cor, label, xlab, tx_x in d_panels:
    ax = add_ax(*box)
    style(ax)
    ax.scatter(raw[:, 0], raw[:, 1], s=13, color=RED, lw=0)
    ax.scatter(cor[:, 0], cor[:, 1], s=19, color=BLUE, lw=0)
    ax.set_xlim(-1, 1)
    ax.set_ylim(-2, 2)
    xt = [-1, -0.5, 0, 0.5, 1]
    ax.set_xticks(xt)
    ax.set_xticklabels([fmt(v) for v in xt] if xlab else [])
    ax.set_yticks([-2, -1, 0, 1, 2])
    ax.text(tx_x, 1.01, label, transform=ax.transAxes, ha='left', va='top', fontsize=FS,
            linespacing=1.2)

# ---------------- overlay: labels, titles, scale bars ----------------
ov = fig.add_axes([0, 0, 1, 1])
ov.set_xlim(0, W)
ov.set_ylim(H, 0)
ov.axis('off')
ov.set_facecolor('none')


def T(x, y, s, **kw):
    kw.setdefault('fontsize', FS)
    kw.setdefault('va', 'center')
    ov.text(x, y, s, **kw)


# panel letters and titles
for letter, lx, ly, tx, ty, title in [
        ('A', 12, 20, 55, 22, 'Lick and muscle bout definition'),
        ('B', 395, 19, 429, 22, 'Both licks and presses cause changes in muscles near the skull'),
        ('C', 12, 458, 55, 464, 'Muscle changes cause signal artifacts in the brain signal that can be corrected (averaged traces)'),
        ('D', 12, 1065, 55, 1068, 'Muscle changes cause signal artifacts in the brain signal that can be corrected (scatter plots)')]:
    T(lx, ly, letter, fontsize=19, ha='left')
    T(tx, ty, title, fontweight='bold', fontsize=12.1)

# panel A labels
T(126, 163, 'Lick trace', ha='right', color='#2ca02c', fontsize=11.5)
T(126, 193, 'Muscle trace', ha='right', color='#111111', fontsize=11.5)
T(126, 221, 'Brain raw', ha='right', color='#ee1c25', fontsize=11.5)
T(126, 249, 'Brain corrected', ha='right', color='#3a86c6', fontsize=11.5)
T(168, 115, 'Lick bout', ha='center', color='#b5b5b5', fontsize=11.5)
T(238, 136, 'Muscle \u2018bout\u2019', ha='center', color='#b5b5b5', fontsize=11.5)
grey = dict(color='#bbbbbb', lw=1.0, ls=(0, (2.5, 2)))
ov.add_patch(Rectangle((158, 149), 20, 27, fill=False, **grey))
ov.plot([168, 168], [125, 149], **grey)
ov.add_patch(Rectangle((219, 176), 21, 27, fill=False, **grey))
ov.plot([230, 230], [145, 176], **grey)
ov.plot([144, 144, 265, 265], [272, 278, 278, 272], color='#222222', lw=1.3)
T(204, 297, '50 s', ha='center', color='#333333')
T(204, 323, 'Time (s)', ha='center', color='#333333')
# scale brackets in A
ov.plot([287, 284, 284, 287], [161, 161, 169, 169], color='#222222', lw=1.2)
T(298, 165, '5', ha='center')
T(320, 160, 'Hz', ha='center', rotation=90, fontsize=12.5)
ov.plot([288, 284, 284, 288], [217, 217, 241, 241], color='#222222', lw=1.2)
T(298, 229, '1', ha='center')
T(333, 223, 'Mean\nsignal', ha='center', rotation=90, fontsize=12.5, linespacing=1.05)
ov.plot([316, 316], [192, 254], color='#222222', lw=1.0)
ov.plot([350, 350], [192, 262], color='#222222', lw=1.0)

# panel B labels
T(593, 58, 'Aligned on lick start', ha='center')
T(917, 58, 'Align on press start', ha='center')
T(620, 114, 'Avg. lick trace', ha='center', color='#3aaa3a')
T(955, 103, 'Avg. press trace', ha='center', color='#c48c58')
ov.plot([733, 729, 729, 733], [127, 127, 140, 140], color=GREEN, lw=1.4)
T(744, 128, '1Hz', ha='center', rotation=90, color=GREEN)
ov.plot([1067, 1063, 1063, 1067], [113, 113, 137, 137], color=BROWN, lw=1.4)
T(1078, 122, '0.5Hz', ha='center', rotation=90, color=BROWN)
T(412, 118, 'Event\nrate', ha='center', rotation=90, linespacing=1.3)
T(407, 252, 'I Mean muscle signal I\n(norm. to baseline [-5:-1])', ha='center', rotation=90,
  linespacing=1.25)
T(764, 405, 'Time from lick or press \u201cbout\u201d start (s)', ha='center', fontsize=11.8)

# panel C labels
T(546, 503, 'Average brain signal aligned on begining of muscle \u201cbout\u201d', ha='center')
T(33, 757, 'I Mean brain signal I (norm. to baseline [-5:-1])', ha='center', rotation=90)
T(546, 1015, 'Time from muscle bout start (s)', ha='center')
T(1012, 553, 'Brain signal:', ha='left')
ov.plot([1015, 1040], [579, 579], color=RED, lw=2)
T(1047, 579, 'raw', ha='left')
ov.plot([1015, 1040], [599, 599], color=BLUE, lw=2)
T(1047, 599, 'corrected', ha='left')

# panel D labels
T(588, 1109, 'Scatter plots relating brain and muscle signal before and after artifact correction',
  ha='center')
T(31, 1362, 'Mean brain signal (a.u.)', ha='center', rotation=90)
T(551, 1620, 'Mean signal in muscle (a.u.)', ha='center')
T(1012, 1147, 'Brain signal:', ha='left')
ov.scatter([1017], [1172], s=30, color=RED, lw=0)
T(1037, 1172, 'raw', ha='left')
ov.scatter([1017], [1192], s=30, color=BLUE, lw=0)
T(1037, 1192, 'corrected', ha='left')

fig.savefig('out.png', dpi=100)
